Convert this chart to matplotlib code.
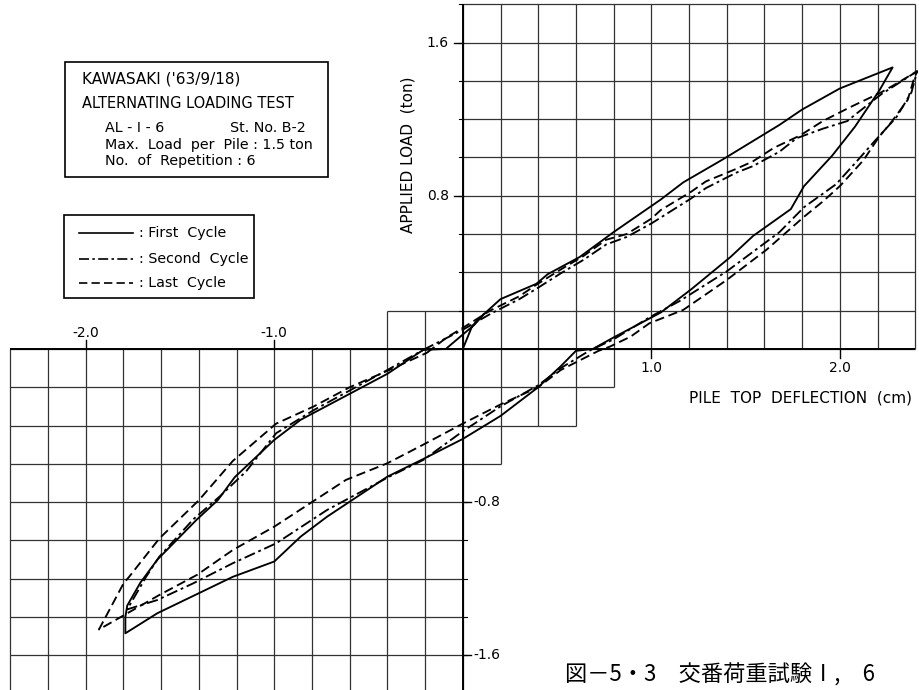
import numpy as np
import matplotlib
matplotlib.use("Agg")
import matplotlib.pyplot as plt
from matplotlib.patches import Rectangle

# ---------------- data (pile top deflection [cm], applied load [ton]) ----------------
first_x = [0.00, 0.05, 0.11, 0.20, 0.39, 0.45, 0.62, 0.80, 1.05, 1.17, 1.38, 1.68, 1.80, 2.00, 2.28,
           2.21, 2.08, 1.96, 1.81, 1.74, 1.54, 1.42, 1.21, 1.05, 0.80, 0.69, 0.60, 0.52, 0.40, 0.20,
           0.00, -0.21, -0.40, -0.72, -0.86, -1.00, -1.22, -1.62, -1.79,
           -1.79, -1.78, -1.71, -1.62, -1.50, -1.41, -1.30, -1.21, -1.00, -0.86, -0.63, -0.40, -0.21,
           -0.09, 0.06, 0.11]
first_y = [0.00, 0.12, 0.18, 0.26, 0.34, 0.39, 0.48, 0.61, 0.78, 0.87, 0.99, 1.17, 1.25, 1.36, 1.47,
           1.35, 1.16, 1.01, 0.85, 0.73, 0.59, 0.48, 0.31, 0.19, 0.06, 0.00, -0.01, -0.09, -0.20, -0.35,
           -0.47, -0.575, -0.667, -0.876, -0.98, -1.11, -1.19, -1.38, -1.485,
           -1.40, -1.34, -1.22, -1.10, -0.98, -0.89, -0.79, -0.67, -0.475, -0.37, -0.25, -0.13, -0.005,
           0.00, 0.125, 0.18]

second_x = [-0.21, -0.10, 0.00, 0.15, 0.30, 0.40, 0.52, 0.64, 0.76, 0.87, 1.00, 1.21, 1.29, 1.45, 1.54,
            1.68, 1.77, 1.91, 2.04, 2.09, 2.22, 2.41,
            2.38, 2.30, 2.18, 2.09, 1.98, 1.81, 1.68, 1.40, 1.15, 0.99, 0.80, 0.67, 0.52, 0.40, 0.20,
            0.00, -0.21, -0.39, -0.72, -0.99, -1.22, -1.43, -1.62, -1.78,
            -1.68, -1.61, -1.43, -1.29, -1.15, -0.99, -0.79, -0.40, -0.21]
second_y = [-0.005, 0.05, 0.10, 0.185, 0.26, 0.32, 0.395, 0.465, 0.545, 0.585, 0.655, 0.785, 0.84, 0.92,
            0.955, 1.03, 1.10, 1.15, 1.19, 1.23, 1.33, 1.45,
            1.34, 1.21, 1.08, 0.98, 0.86, 0.74, 0.61, 0.405, 0.25, 0.165, 0.05, -0.01, -0.10, -0.19,
            -0.30, -0.43, -0.58, -0.667, -0.841, -1.015, -1.119, -1.224, -1.311, -1.36,
            -1.19, -1.085, -0.89, -0.771, -0.64, -0.44, -0.319, -0.11, -0.005]

last_x = [-0.19, -0.085, 0.00, 0.145, 0.30, 0.39, 0.52, 0.64, 0.76, 0.87, 1.00, 1.05, 1.21, 1.29, 1.45,
          1.54, 1.65, 1.79, 1.91, 2.05, 2.22, 2.30, 2.41,
          2.39, 2.36, 2.27, 2.21, 2.125, 2.00, 1.91, 1.81, 1.61, 1.40, 1.17, 0.99, 0.89, 0.78, 0.72,
          0.52, 0.40, 0.20, 0.00, -0.21, -0.40, -0.62, -1.00, -1.22, -1.41, -1.61, -1.93,
          -1.80, -1.77, -1.61, -1.40, -1.22, -0.99, -0.79, -0.60, -0.39, -0.19]
last_y = [-0.02, 0.06, 0.11, 0.20, 0.275, 0.335, 0.415, 0.485, 0.57, 0.60, 0.68, 0.725, 0.82, 0.875,
          0.94, 0.98, 1.05, 1.115, 1.19, 1.26, 1.34, 1.385, 1.45,
          1.40, 1.30, 1.18, 1.11, 0.985, 0.85, 0.77, 0.69, 0.517, 0.36, 0.204, 0.134, 0.064, 0.012,
          -0.01, -0.11, -0.20, -0.29, -0.39, -0.50, -0.597, -0.684, -0.928, -1.05, -1.18, -1.285,
          -1.465,
          -1.225, -1.19, -0.99, -0.79, -0.585, -0.39, -0.30, -0.20, -0.11, -0.02]

x_ticks_pos = [1.0, 2.0]
x_ticks_neg = [-2.0, -1.0]
y_ticks_pos = [0.8, 1.6]
y_ticks_neg = [-0.8, -1.6]

legend_labels = [": First  Cycle", ": Second  Cycle", ": Last  Cycle"]
info_lines = ["KAWASAKI ('63/9/18)", "ALTERNATING LOADING TEST"]
caption = "図－5・3　交番荷重試験Ⅰ,　6"

# ---------------- figure ----------------
W, H = 919, 690
fig = plt.figure(figsize=(W / 100, H / 100), dpi=100)
ax = fig.add_axes([0, 0, 1, 1])
ax.set_xlim(-2.455, 2.420)
ax.set_ylim(-1.781, 1.822)
ax.axis("off")

def fx(px):
    return px / W

def fy(py):
    return 1 - py / H

gc = "#333333"
glw = 0.9
# upper-right grid
xs = np.round(np.arange(0, 2.41, 0.2), 2)
ys = np.round(np.arange(0, 1.81, 0.2), 2)
ax.vlines(xs, 0, 1.8, color=gc, lw=glw)
ax.hlines(ys, 0, 2.4, color=gc, lw=glw)
# lower-left grid
ax.vlines(-xs, -1.8, 0, color=gc, lw=glw)
ax.hlines(-ys, -2.4, 0, color=gc, lw=glw)
# staircase cells near origin
ax.hlines([0.2], -0.4, 0, color=gc, lw=glw)
ax.vlines([-0.4, -0.2], 0, 0.2, color=gc, lw=glw)
ax.hlines([-0.2], 0, 0.8, color=gc, lw=glw)
ax.hlines([-0.4], 0, 0.6, color=gc, lw=glw)
ax.hlines([-0.6], 0, 0.2, color=gc, lw=glw)
ax.vlines([0.2], -0.6, 0, color=gc, lw=glw)
ax.vlines([0.4, 0.6], -0.4, 0, color=gc, lw=glw)
ax.vlines([0.8], -0.2, 0, color=gc, lw=glw)
# main axes
ax.hlines([0], -2.4, 2.4, color="black", lw=1.4)
ax.vlines([0], -1.8, 1.8, color="black", lw=1.4)

# ticks & tick labels
fs_tick = 10
for v in y_ticks_pos:
    ax.plot([-0.045, 0], [v, v], color="black", lw=1.0)
    ax.text(-0.075, v, f"{v:.1f}", ha="right", va="center", fontsize=fs_tick)
for v in np.round(np.arange(0.2, 1.81, 0.2), 2):
    ax.plot([-0.02, 0], [v, v], color="black", lw=0.8)
for v in y_ticks_neg:
    ax.plot([0, 0.045], [v, v], color="black", lw=1.0)
    ax.text(0.055, v, f"-{abs(v):.1f}", ha="left", va="center", fontsize=fs_tick)
for v in np.round(np.arange(-0.8, -1.81, -0.2), 2):
    ax.plot([0, 0.02], [v, v], color="black", lw=0.8)
for v in x_ticks_pos:
    ax.plot([v, v], [0, -0.045], color="black", lw=1.0)
    ax.text(v, -0.1, f"{v:.1f}", ha="center", va="center", fontsize=fs_tick)
for v in x_ticks_neg:
    ax.plot([v, v], [0, 0.045], color="black", lw=1.0)
    ax.text(v, 0.085, f"-{abs(v):.1f}", ha="center", va="center", fontsize=fs_tick)

ax.text(-0.29, 1.013, "APPLIED LOAD  (ton)", rotation=90, ha="center", va="center", fontsize=11)
ax.text(1.79, -0.256, "PILE  TOP  DEFLECTION  (cm)", ha="center", va="center", fontsize=11)

# curves
lw = 1.35
ax.plot(first_x, first_y, color="black", lw=lw, solid_joinstyle="round")
ax.plot(second_x, second_y, color="black", lw=lw, linestyle=(0, (6, 2, 1.5, 2)))
ax.plot(last_x, last_y, color="black", lw=lw, linestyle=(0, (5, 2.5)))

# info box
fs_box = 10.3
fig.patches.append(Rectangle((fx(65), fy(177)), fx(328) - fx(65), fy(62) - fy(177),
                             transform=fig.transFigure, fill=False, ec="black", lw=1.2))
fig.text(fx(82), fy(79), info_lines[0], ha="left", va="center", fontsize=11)
fig.text(fx(82), fy(104), info_lines[1], ha="left", va="center", fontsize=10.5)
fig.text(fx(105), fy(128), "AL - I - 6", ha="left", va="center", fontsize=fs_box)
fig.text(fx(230), fy(128), "St. No. B-2", ha="left", va="center", fontsize=fs_box)
fig.text(fx(105), fy(145), "Max.  Load  per  Pile : 1.5 ton", ha="left", va="center", fontsize=fs_box)
fig.text(fx(105), fy(161), "No.  of  Repetition : 6", ha="left", va="center", fontsize=fs_box)

# legend box
fig.patches.append(Rectangle((fx(64), fy(298)), fx(254) - fx(64), fy(215) - fy(298),
                             transform=fig.transFigure, fill=False, ec="black", lw=1.2))
styles = ["-", (0, (6, 2, 1.5, 2)), (0, (5, 2.5))]
rows = [233, 259, 283]
for st, py, lab in zip(styles, rows, legend_labels):
    fig.add_artist(plt.Line2D([fx(79), fx(133)], [fy(py), fy(py)], transform=fig.transFigure,
                              color="black", lw=1.2, linestyle=st))
    fig.text(fx(139), fy(py), lab, ha="left", va="center", fontsize=10.3)

# caption
fig.text(fx(565), fy(675), caption, ha="left", va="center", fontsize=16,
         family=["Noto Sans CJK JP", "DejaVu Sans"])

fig.savefig("out.png", dpi=100, facecolor="white")
